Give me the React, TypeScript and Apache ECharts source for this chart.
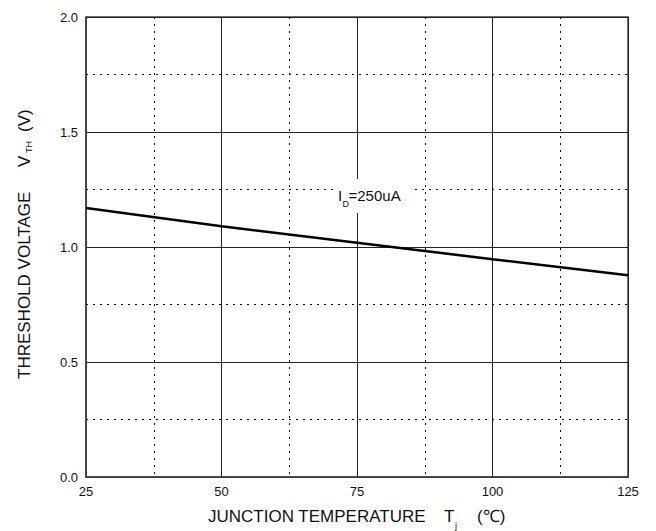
import React, { useEffect, useRef } from "react";
import * as echarts from "echarts";

const temperatures = [25, 50, 75, 100, 125];
const thresholdVoltage = [1.17, 1.09, 1.018, 0.947, 0.877];
const xTicks = { min: 25, max: 125, interval: 25 };
const yTicks = { min: 0, max: 2, interval: 0.5 };

const FONT = "'Liberation Sans', Arial, sans-serif";
const INK = "#111";

export default function App() {
  const ref = useRef<HTMLDivElement>(null);
  useEffect(() => {
    if (!ref.current) return;
    const chart = echarts.init(ref.current, undefined, { renderer: "svg" });
    const data = temperatures.map((t, i) => [t, thresholdVoltage[i]]);
    const minor = { show: true, lineStyle: { color: "#000", width: 1, type: [2, 5] as any } };
    chart.setOption({
      animation: false,
      backgroundColor: "#fff",
      grid: {
        left: 86,
        right: 28,
        top: 17,
        bottom: 54,
        show: true,
        borderColor: "#444",
        borderWidth: 1.5,
        backgroundColor: "transparent",
      },
      xAxis: {
        type: "value",
        min: xTicks.min,
        max: xTicks.max,
        interval: xTicks.interval,
        axisLine: { show: true, lineStyle: { color: "#444", width: 1.5 } },
        axisTick: { show: false },
        axisLabel: { color: INK, fontSize: 13, fontFamily: FONT, margin: 8 },
        splitLine: { show: true, lineStyle: { color: "#222", width: 1 } },
        minorTick: { show: false, splitNumber: 2 },
        minorSplitLine: minor,
      },
      yAxis: {
        type: "value",
        min: yTicks.min,
        max: yTicks.max,
        interval: yTicks.interval,
        axisLine: { show: true, lineStyle: { color: "#444", width: 1.5 } },
        axisTick: { show: false },
        axisLabel: {
          color: INK,
          fontSize: 13,
          fontFamily: FONT,
          margin: 8,
          formatter: (v: number) => v.toFixed(1),
        },
        splitLine: { show: true, lineStyle: { color: "#222", width: 1 } },
        minorTick: { show: false, splitNumber: 2 },
        minorSplitLine: minor,
      },
      series: [
        {
          type: "line",
          data,
          showSymbol: false,
          symbol: "none",
          lineStyle: { color: "#000", width: 2.5 },
          z: 5,
        },
      ],
      graphic: [
        {
          type: "rect",
          shape: { x: 333, y: 179, width: 79, height: 34 },
          style: { fill: "#fff" },
          z: 10,
        },
        {
          type: "text",
          x: 338,
          y: 195.5,
          z: 11,
          style: { text: "I", font: `15px ${FONT}`, fill: INK, verticalAlign: "middle", align: "left" },
        },
        {
          type: "text",
          x: 342.5,
          y: 204,
          z: 11,
          style: { text: "D", font: `9px ${FONT}`, fill: INK, verticalAlign: "middle", align: "left" },
        },
        {
          type: "text",
          x: 348.5,
          y: 195.5,
          z: 11,
          style: { text: "=250uA", font: `15px ${FONT}`, fill: INK, verticalAlign: "middle", align: "left" },
        },
        {
          type: "text",
          x: 208,
          y: 516.5,
          style: { text: "JUNCTION TEMPERATURE", font: `17px ${FONT}`, fill: INK, verticalAlign: "middle", align: "left" },
        },
        {
          type: "text",
          x: 444,
          y: 516.5,
          style: { text: "T", font: `17px ${FONT}`, fill: INK, verticalAlign: "middle", align: "left" },
        },
        {
          type: "text",
          x: 455,
          y: 526,
          style: { text: "j", font: `9px ${FONT}`, fill: INK, verticalAlign: "middle", align: "left" },
        },
        {
          type: "text",
          x: 477,
          y: 516.5,
          style: { text: "(℃)", font: `17px ${FONT}`, fill: INK, verticalAlign: "middle", align: "left" },
        },
        {
          type: "group",
          x: 24,
          y: 379,
          rotation: Math.PI / 2,
          children: [
            {
              type: "text",
              x: 0,
              y: 0,
              style: { text: "THRESHOLD VOLTAGE", font: `17px ${FONT}`, fill: INK, verticalAlign: "middle", align: "left" },
            },
            {
              type: "text",
              x: 212,
              y: 0,
              style: { text: "V", font: `17px ${FONT}`, fill: INK, verticalAlign: "middle", align: "left" },
            },
            {
              type: "text",
              x: 226,
              y: 4.5,
              style: { text: "TH", font: `9px ${FONT}`, fill: INK, verticalAlign: "middle", align: "left" },
            },
            {
              type: "text",
              x: 247,
              y: 0,
              style: { text: "(V)", font: `17px ${FONT}`, fill: INK, verticalAlign: "middle", align: "left" },
            },
          ],
        },
      ],
    });
    return () => chart.dispose();
  }, []);
  return (
    <div
      ref={ref}
      style={{ position: "fixed", left: 0, top: 0, width: 656, height: 531, background: "#fff" }}
    />
  );
}
